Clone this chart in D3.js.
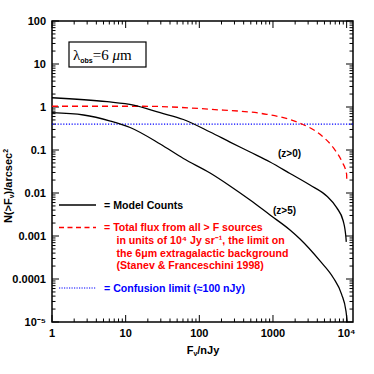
<!DOCTYPE html>
<html><head><meta charset="utf-8">
<script src="https://cdn.jsdelivr.net/npm/d3@7"></script>
<style>body{margin:0;background:#fff}svg{display:block}text{font-family:"Liberation Sans",Arial,sans-serif}</style>
</head><body>
<script>
// ---- data ----
const countsAll = [[1,1.64],[5.6,1.33],[12.8,1.11],[29.4,0.736],[60.8,0.512],[140,0.262],[261,0.153],[489,0.0898],[912,0.0527],[1703,0.0284],[3180,0.0153],[5360,0.0085],[7320,0.00455],[8990,0.00223],[9790,0.00091],[9890,0.00073]];
const countsZ5 = [[1,0.736],[2.68,0.652],[6.2,0.472],[11.5,0.334],[29.4,0.138],[60.8,0.0634],[140,0.0292],[261,0.0146],[489,0.00687],[912,0.00308],[1703,0.00138],[2330,0.000851],[4350,0.000263],[6580,0.000107],[8550,0.000044],[9790,0.000018],[10190,0.00001]];
const totalFlux = [[1,1.04],[17.3,1.04],[140,0.885],[822,0.676],[2330,0.42],[4350,0.232],[6580,0.113],[8550,0.0555],[10000,0.0272],[10050,0.018]];
const confusion = 0.4;
const xTicks = [1,10,100,1000,10000];
const xTickLabels = ["1","10","100","1000","10⁴"];
const yTicks = [1e-5,1e-4,1e-3,1e-2,0.1,1,10,100];
const yTickLabels = ["10⁻⁵","0.0001","0.001","0.01","0.1","1","10","100"];
const curveLabels = [{t:"(z>0)",x:1170,y:0.068},{t:"(z>5)",x:1000,y:0.0033}];
const legendItems = [
  {kind:"solid",color:"#000",lines:["= Model Counts"]},
  {kind:"dash",color:"#ff0000",lines:["= Total flux from all > F sources","in units of 10⁴ Jy sr⁻¹, the limit on","the 6μm extragalactic background","(Stanev & Franceschini 1998)"]},
  {kind:"dot",color:"#0000ff",lines:["= Confusion limit (≈100 nJy)"]}
];

const W=374,H=374;
const L=52,R=353,T=21,B=322;
const svg=d3.select("body").append("svg").attr("width",W).attr("height",H);
const x=d3.scaleLog().domain([1,12200]).range([L,R]);
const y=d3.scaleLog().domain([1e-5,100]).range([B,T]);

// ticks
const minorX=[];for(let d=1;d<=10000;d*=10)for(let k=1;k<10;k++){const v=d*k;if(v<=12200)minorX.push(v);}
const minorY=[];for(let d=1e-5;d<100;d*=10)for(let k=1;k<10;k++){minorY.push(d*k);} minorY.push(100);
const isMajor=v=>Math.abs(Math.log10(v)-Math.round(Math.log10(v)))<1e-6;
const g=svg.append("g").attr("stroke","#000").attr("stroke-width",1);
minorX.forEach(v=>{const len=isMajor(v)?7:3.5;const px=x(v);
  g.append("line").attr("x1",px).attr("x2",px).attr("y1",B).attr("y2",B-len);
  g.append("line").attr("x1",px).attr("x2",px).attr("y1",T).attr("y2",T+len);});
minorY.forEach(v=>{const len=isMajor(v)?7:3.5;const py=y(v);
  g.append("line").attr("x1",L).attr("x2",L+len).attr("y1",py).attr("y2",py);
  g.append("line").attr("x1",R).attr("x2",R-len).attr("y1",py).attr("y2",py);});
svg.append("rect").attr("x",L).attr("y",T).attr("width",R-L).attr("height",B-T).attr("fill","none").attr("stroke","#000").attr("stroke-width",1.5);

// tick labels
xTicks.forEach((v,i)=>svg.append("text").attr("x",x(v)).attr("y",337).attr("text-anchor","middle").attr("font-size",11).attr("font-weight","bold").text(xTickLabels[i]));
yTicks.forEach((v,i)=>svg.append("text").attr("x",46).attr("y",y(v)+4).attr("text-anchor","end").attr("font-size",11).attr("font-weight","bold").text(yTickLabels[i]));

// axis titles
const xt=svg.append("text").attr("x",203).attr("y",354).attr("text-anchor","middle").attr("font-size",11).attr("font-weight","bold");
xt.append("tspan").text("F");xt.append("tspan").attr("font-size",7).attr("dy",2).text("ν");xt.append("tspan").attr("dy",-2).text("/nJy");
const yt=svg.append("text").attr("transform","translate(12,186) rotate(-90)").attr("text-anchor","middle").attr("font-size",11).attr("font-weight","bold");
yt.append("tspan").text("N(>F");yt.append("tspan").attr("font-size",7).attr("dy",2).text("ν");yt.append("tspan").attr("dy",-2).text(")/arcsec");yt.append("tspan").attr("font-size",7).attr("dy",-4).text("2");

// curves
svg.append("clipPath").attr("id","c").append("rect").attr("x",L).attr("y",T).attr("width",R-L).attr("height",B-T);
const line=d3.line().x(d=>x(d[0])).y(d=>y(d[1])).curve(d3.curveMonotoneX);
const pg=svg.append("g").attr("clip-path","url(#c)");
pg.append("line").attr("x1",L).attr("x2",R).attr("y1",y(confusion)).attr("y2",y(confusion)).attr("stroke","#0000ff").attr("stroke-width",1.2).attr("stroke-dasharray","1.2,1.6");
pg.append("path").attr("d",line(totalFlux)).attr("fill","none").attr("stroke","#ff0000").attr("stroke-width",1.3).attr("stroke-dasharray","6,4");
pg.append("path").attr("d",line(countsAll)).attr("fill","none").attr("stroke","#000").attr("stroke-width",1.3);
pg.append("path").attr("d",line(countsZ5)).attr("fill","none").attr("stroke","#000").attr("stroke-width",1.3);
curveLabels.forEach(c=>svg.append("text").attr("x",x(c.x)).attr("y",y(c.y)).attr("font-size",10).attr("font-weight","bold").text(c.t));

// lambda box
svg.append("rect").attr("x",69).attr("y",42).attr("width",77).attr("height",25).attr("fill","none").attr("stroke","#000").attr("stroke-width",1.2);
const lt=svg.append("text").attr("x",73).attr("y",60).attr("font-family","Liberation Serif,serif").attr("font-size",15);
lt.append("tspan").attr("font-family","Liberation Serif,serif").text("λ");lt.append("tspan").attr("font-family","Liberation Sans").attr("font-weight","bold").attr("font-size",7).attr("dy",3).text("obs");
lt.append("tspan").attr("font-family","Liberation Serif,serif").attr("dy",-3).text("=6  ");lt.append("tspan").attr("font-family","Liberation Serif,serif").attr("font-style","italic").text("μ");lt.append("tspan").attr("font-family","Liberation Serif,serif").text("m");

// legend
const legY=[205,227.5,288];
const legFont=10.6;
legendItems.forEach((it,i)=>{
  const ly=legY[i];
  const ln=svg.append("line").attr("x1",59).attr("x2",96).attr("y1",ly).attr("y2",ly).attr("stroke",it.color).attr("stroke-width",1.3);
  if(it.kind==="dash")ln.attr("stroke-dasharray","5,3.5");
  if(it.kind==="dot")ln.attr("stroke-dasharray","1.2,1.3").attr("stroke-width",1.1);
  it.lines.forEach((t,j)=>svg.append("text").attr("x",j===0?104:116.5).attr("y",ly+3.5+j*12.8).attr("fill",it.color).attr("font-size",legFont).attr("font-weight","bold").text(t));
});
</script>
</body></html>
